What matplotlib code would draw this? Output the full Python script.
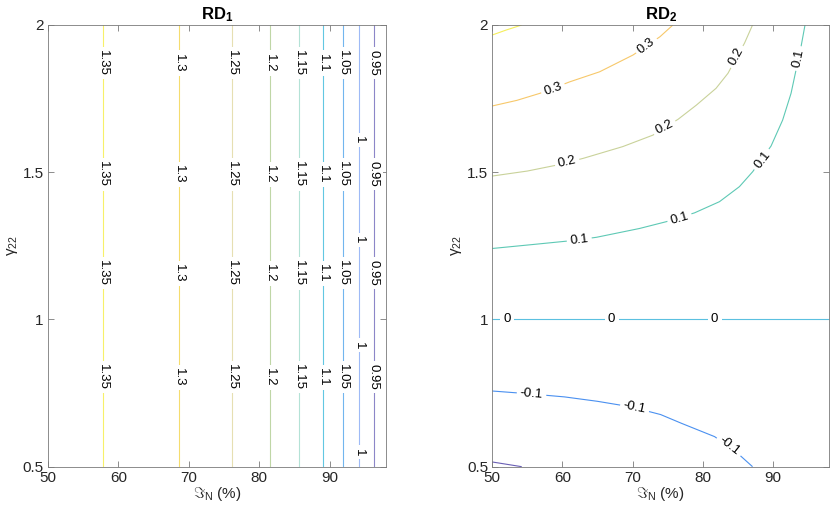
import numpy as np
import matplotlib
matplotlib.use("Agg")
import matplotlib.pyplot as plt

plt.rcParams['font.family'] = ['Liberation Sans', 'DejaVu Sans']
plt.rcParams['mathtext.fontset'] = 'custom'
plt.rcParams['mathtext.rm'] = 'Liberation Sans'
plt.rcParams['mathtext.it'] = 'Liberation Sans'
plt.rcParams['mathtext.bf'] = 'Liberation Sans:bold'

# RD_1: vertical contour lines (level -> J_N position)
rd1_levels = [1.35, 1.3, 1.25, 1.2, 1.15, 1.1, 1.05, 1.0, 0.95]
rd1_xpos = [57.85, 68.6, 76.1, 81.5, 85.7, 89.0, 91.9, 94.2, 96.3]
rd1_label_y = [1.871, 1.493, 1.157, 0.804]
rd1_label_y_one = [1.609, 1.269, 0.912, 0.549]

# RD_2: contour lines
rd2_levels = [0.4, 0.3, 0.2, 0.1, 0.0, -0.1, -0.2]
c04_x = [50.0, 52.0, 54.2]
c04_y = [1.966, 1.983, 2.0]
c03_x = [50.0, 53.5, 56.8, 61.05, 65.3, 70.06, 73.9, 75.75]
c03_y = [1.725, 1.744, 1.768, 1.807, 1.841, 1.898, 1.960, 2.0]
c02_x = [50.0, 55.0, 59.16, 62.95, 68.6, 72.9, 76.5, 79.1, 81.9, 83.6, 84.85, 85.95, 87.1]
c02_y = [1.487, 1.504, 1.524, 1.547, 1.587, 1.626, 1.680, 1.728, 1.785, 1.836, 1.892, 1.938, 2.0]
c01_x = [50.0, 56.0, 61.05, 64.85, 71.0, 74.8, 78.83, 82.39, 85.23, 87.13, 89.74,
         91.39, 92.59, 93.30, 94.01, 94.58]
c01_y = [1.241, 1.255, 1.267, 1.279, 1.309, 1.332, 1.362, 1.400, 1.451, 1.502, 1.589,
         1.677, 1.768, 1.847, 1.926, 2.0]
c00_x = [50.0, 98.0]
c00_y = [1.0, 1.0]
cm01_x = [50.0, 55.0, 60.3, 65.0, 69.8, 74.0, 77.0, 81.7, 85.0, 87.1]
cm01_y = [0.757, 0.748, 0.737, 0.722, 0.703, 0.677, 0.647, 0.602, 0.545, 0.5]
cm02_x = [50.0, 54.2]
cm02_y = [0.516, 0.5]

# label anchors per level (x, y)
rd2_labels = {
    0.3: [(58.68, 1.782), (71.96, 1.930)],
    0.2: [(60.67, 1.534), (74.57, 1.652), (84.85, 1.892)],
    0.1: [(62.4, 1.271), (76.7, 1.344), (88.55, 1.541), (93.67, 1.886)],
    0.0: [(52.1, 1.0), (67.0, 1.0), (81.7, 1.0)],
    -0.1: [(55.6, 0.747), (70.3, 0.700), (83.8, 0.570)],
}

rd1_colors = ['#f7f06a', '#f5dc6e', '#e6dfb2', '#bfd6a6', '#b4e2d6',
              '#62c7e2', '#72b6ee', '#9ebaf6', '#8c86c8']
rd2_colors = ['#f5ee5a', '#f7c86a', '#c9d29a', '#5ec9b5', '#5bc0e0',
              '#4a90f0', '#6a5fb5']

spine_col = '#7a7a7a'
text_col = '#262626'
lw = 0.8
lab_fs = 9.5

fig = plt.figure(figsize=(8.3, 5.12), dpi=100)
ax1 = fig.add_axes([0.0578, 0.0885, 0.4072, 0.8627])
ax2 = fig.add_axes([0.5931, 0.0885, 0.4057, 0.8627])


def style_axes(ax, title):
    ax.set_xlim(50, 98)
    ax.set_ylim(0.5, 2)
    ax.set_xticks([50, 60, 70, 80, 90])
    ax.set_yticks([0.5, 1, 1.5, 2])
    ax.set_yticklabels(['0.5', '1', '1.5', '2'])
    ax.tick_params(direction='in', length=4, width=0.6, top=True, right=True,
                   colors=spine_col, labelcolor=text_col, labelsize=11, pad=3)
    for sp in ax.spines.values():
        sp.set_color(spine_col)
        sp.set_linewidth(0.6)
    ax.set_title(title, fontsize=12, color='black', pad=4)
    ax.set_xlabel(r'$\Im_{\mathrm{N}}$ (%)', fontsize=11, color=text_col, labelpad=0)
    ax.set_ylabel(r'$\gamma_{22}$', fontsize=11, color=text_col, labelpad=2)


def put_label(ax, x, y, text, rot):
    ax.text(x, y, text, fontsize=lab_fs, color='black', rotation=rot,
            rotation_mode='anchor', ha='center', va='center', zorder=5,
            bbox=dict(boxstyle='square,pad=0.25', fc='white', ec='none'))


style_axes(ax1, r'$\mathbf{RD}_{\mathbf{1}}$')
style_axes(ax2, r'$\mathbf{RD}_{\mathbf{2}}$')

# left panel
for lev, xp, col in zip(rd1_levels, rd1_xpos, rd1_colors):
    ax1.plot([xp, xp], [0.5, 2], color=col, linewidth=lw)
    ys = rd1_label_y_one if lev == 1.0 else rd1_label_y
    for yl in ys:
        put_label(ax1, xp, yl, f'{lev:g}', -90)

# right panel
curves = [(c04_x, c04_y), (c03_x, c03_y), (c02_x, c02_y), (c01_x, c01_y),
          (c00_x, c00_y), (cm01_x, cm01_y), (cm02_x, cm02_y)]
for lev, (cx, cy), col in zip(rd2_levels, curves, rd2_colors):
    ax2.plot(cx, cy, color=col, linewidth=lw, solid_capstyle='butt')
    if lev not in rd2_labels:
        continue
    pts = ax2.transData.transform(np.column_stack([cx, cy]))
    for (lx, ly) in rd2_labels[lev]:
        p = ax2.transData.transform((lx, ly))
        i = int(np.argmin(np.hypot(pts[:, 0] - p[0], pts[:, 1] - p[1])))
        a, b = pts[max(i - 1, 0)], pts[min(i + 1, len(pts) - 1)]
        ang = np.degrees(np.arctan2(b[1] - a[1], b[0] - a[0]))
        if ang > 90:
            ang -= 180
        elif ang < -90:
            ang += 180
        put_label(ax2, lx, ly, f'{lev:g}', ang)

fig.savefig('out.png', dpi=100)
